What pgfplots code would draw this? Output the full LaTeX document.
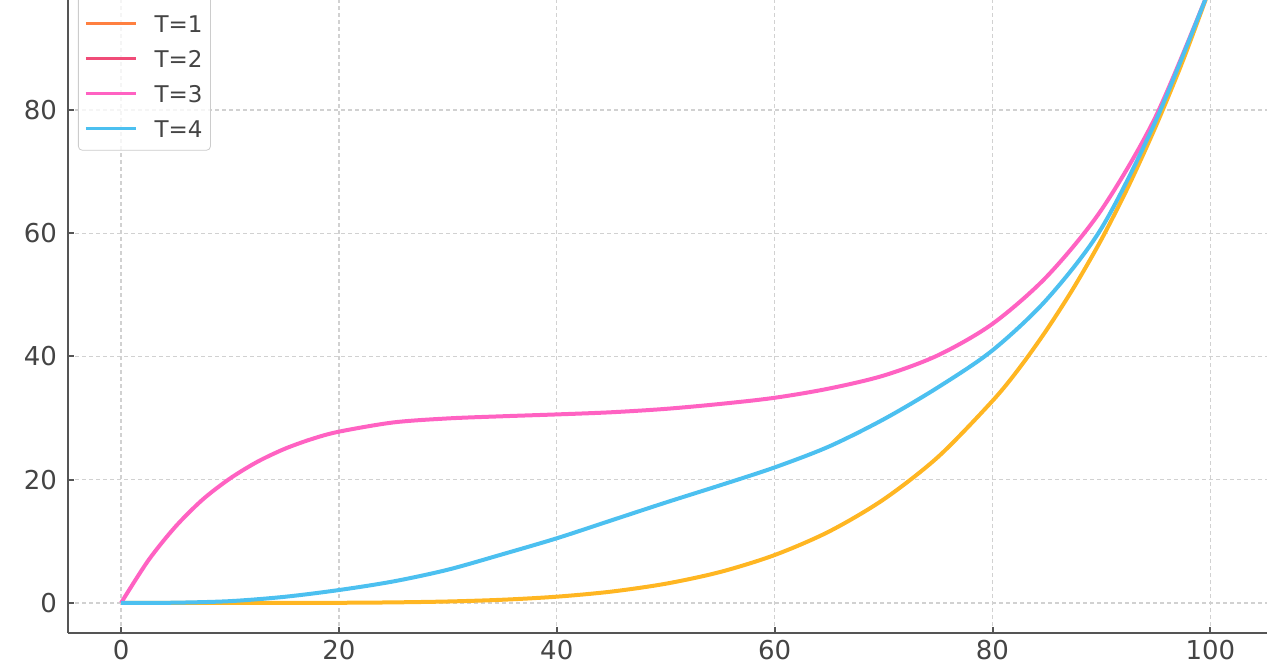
\documentclass[border=0pt]{standalone}
\usepackage{fontspec}
\setmainfont{DejaVu Sans}
\usepackage{pgfplots}
\pgfplotsset{compat=1.18}

\definecolor{cAmber}{RGB}{255,182,34}
\definecolor{cOrange}{RGB}{255,128,64}
\definecolor{cRed}{RGB}{240,76,120}
\definecolor{cPink}{RGB}{255,98,194}
\definecolor{cBlue}{RGB}{76,192,240}
\definecolor{cAxis}{RGB}{85,85,85}
\definecolor{cText}{RGB}{68,68,68}

\begin{document}
\begin{tikzpicture}
\begin{axis}[
    name=ax,
    scale only axis,
    width=599.5pt, height=316.5pt,
    xmin=-4.87, xmax=105.2,
    ymin=-4.87, ymax=97.85,
    axis x line*=bottom, axis y line*=left,
    axis line style={cAxis, line width=1.2pt},
    tick align=inside,
    major tick length=3pt,
    tick style={cAxis, line width=1pt},
    xtick={0,20,40,60,80,100},
    ytick={0,20,40,60,80},
    tick label style={font=\fontsize{13}{15}\selectfont, text=cText},
    /pgf/number format/assume math mode=true,
    yticklabel style={xshift=-2pt},
    grid=major,
    major grid style={black!18, line width=0.6pt, dash pattern=on 2pt off 1.5pt},
    legend cell align=left,
    legend style={
        at={(axis description cs:0.0083,0.762)}, anchor=south west,
        draw=black!20, rounded corners=2pt, fill=white, fill opacity=0.8,
        draw opacity=1, text opacity=1,
        font=\fontsize{11.5}{13}\selectfont, text=cText,
        inner xsep=3pt, inner ysep=5.5pt,
        row sep=6.5pt,
        nodes={inner sep=1pt, text height=9pt, text depth=0pt},
        /tikz/every odd column/.append style={column sep=7.5pt},
        /tikz/every even column/.append style={column sep=3pt},
    },
    legend image code/.code={\draw[#1, line width=1.6pt] (0pt,0pt) -- (25pt,0pt);},
]

% T=0 (its legend row lies above the cropped top edge)
\addplot[cAmber, line width=2pt, smooth] coordinates {
(0,0) (5,0.00003) (10,0.001) (15,0.0076) (20,0.032) (25,0.098) (30,0.243)
(35,0.525) (40,1.024) (45,1.845) (50,3.125) (55,5.03) (60,7.78) (65,11.6)
(70,16.8) (75,23.7) (80,32.8) (82.5,38.2) (85,44.4) (87.5,51.3) (90,59.0)
(92.5,67.7) (95,77.4) (97.5,88.1) (100,100)
};
\addlegendentry{T=0}

\addlegendimage{cOrange, line width=2pt}
\addlegendentry{T=1}
\addlegendimage{cRed, line width=2pt}
\addlegendentry{T=2}

% T=3
\addplot[cPink, line width=2pt, smooth] coordinates {
(0,0) (2.5,6.9) (5,12.4) (7.5,16.8) (10,20.2) (12.5,22.9) (15,25.0) (17.5,26.6)
(20,27.8) (25,29.3) (30,29.95) (35,30.3) (40,30.6) (45,30.95) (50,31.5)
(55,32.3) (60,33.3) (65,34.8) (70,36.9) (75,40.2) (80,45.3) (85,53.0)
(90,63.8) (95,79.0) (100,100)
};
\addlegendentry{T=3}

% T=4
\addplot[cBlue, line width=2pt, smooth] coordinates {
(0,0) (5,0.05) (10,0.3) (15,1.0) (20,2.1) (25,3.5) (30,5.4) (35,7.9)
(40,10.5) (45,13.4) (50,16.3) (55,19.1) (60,22.0) (65,25.4) (70,29.8)
(75,35.0) (80,41.0) (85,49.3) (90,60.8) (95,78.3) (100,100)
};
\addlegendentry{T=4}

\end{axis}
\pgfresetboundingbox
\path[use as bounding box] ([shift={(-34pt,-18.5pt)}]ax.south west) rectangle ([shift={(6.5pt,0pt)}]ax.north east);
\end{tikzpicture}
\end{document}
